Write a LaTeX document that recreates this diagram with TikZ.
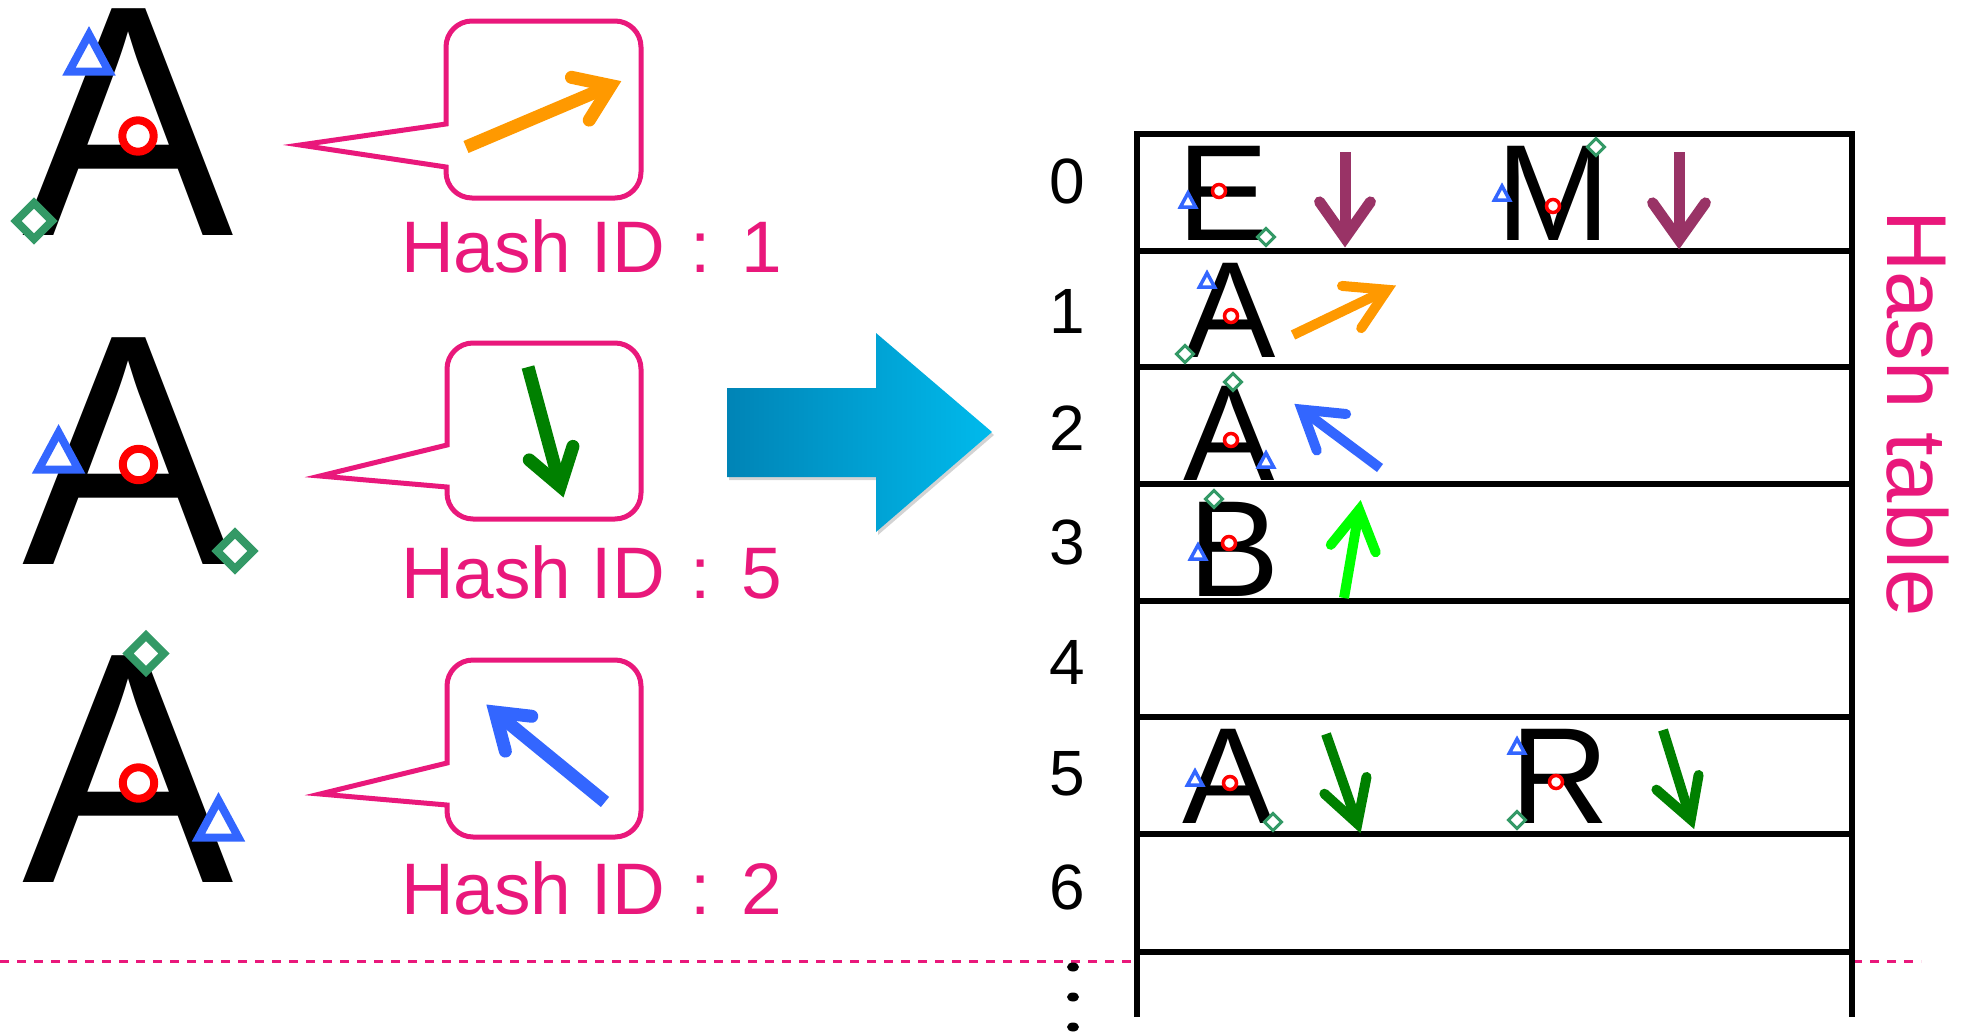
\documentclass[tikz,border=0pt]{standalone}
\usepackage{fontspec}
\setmainfont{Liberation Sans}
\usetikzlibrary{calc,shadows}

\definecolor{idpink}{RGB}{233,24,123}
\definecolor{vorange}{RGB}{255,153,0}
\definecolor{vgreen}{RGB}{0,128,0}
\definecolor{vblue}{RGB}{51,102,255}
\definecolor{vpurple}{RGB}{153,51,102}
\definecolor{vlime}{RGB}{0,255,0}
\definecolor{mkred}{RGB}{255,0,0}
\definecolor{mkblue}{RGB}{51,102,255}
\definecolor{mkgreen}{RGB}{51,153,102}
\definecolor{blockdark}{RGB}{0,132,182}
\definecolor{blockmid}{RGB}{0,172,222}
\definecolor{blocklight}{RGB}{0,186,236}

\newcommand\fsz[1]{\fontsize{#1}{#1}\selectfont}
\newcommand\tallglyph[1]{\scalebox{1}[1.04]{#1}}

% feature vector: straight shaft, V-shaped head with rounded barb ends
% #1 colour, #2 width, #3 tail, #4 tip, #5 and #6 barb ends
\newcommand\strokearrow[6]{%
  \draw[#1, line width=#2pt] #3 -- ($#4!1.1*#2pt!#3$);
  \draw[#1, line width=#2pt, line cap=round, line join=miter]
    ($#5!0.5*#2pt!#4$) -- ($#4!1.1*#2pt!#3$) -- ($#6!0.5*#2pt!#4$);
}

\tikzset{
  glyph/.style={inner sep=0pt, anchor=base, font=\fsz{317}},
  cellglyph/.style={inner sep=0pt, anchor=base, font=\fsz{137}},
  idlabel/.style={inner sep=0pt, anchor=base west, text=idpink, font=\fsz{73}},
  rownum/.style={inner sep=0pt, anchor=base, font=\fsz{64}},
  bubble/.style={draw=idpink, line width=5pt, fill=white},
  gridline/.style={line width=6.5pt, black},
  pics/mtri/.style args={#1/#2}{code={
    \draw[mkblue, fill=white, line width=#2pt] (0,-#1) -- ({1.08*#1},#1) -- ({-1.08*#1},#1) -- cycle;}},
  pics/mcirc/.style args={#1/#2}{code={
    \draw[mkred, fill=white, line width=#2pt] (0,0) circle[radius=#1pt];}},
  pics/mdiam/.style args={#1/#2}{code={
    \draw[mkgreen, fill=white, line width=#2pt] (0,-#1) -- (#1,0) -- (0,#1) -- (-#1,0) -- cycle;}},
}

\begin{document}
\begin{tikzpicture}[x=1pt, y=-1pt]
\useasboundingbox (0,0) rectangle (1965,1031);

% separator line, hidden behind the table
\draw[idpink, line width=3pt, dash pattern=on 9pt off 8pt] (0,961) -- (1921,961);

% ---------- left column: glyphs with keypoints ----------
\node[glyph] (gA1) at (128.5,235) {\tallglyph{A}};
\node[glyph] (gA2) at (128.5,564) {\tallglyph{A}};
\node[glyph] (gA3) at (128.5,882) {\tallglyph{A}};

\pic at (89,53) {mtri=18.5/8};
\pic at (138,136) {mcirc=15.7/8};
\pic at (34,221) {mdiam=18/8};

\pic at (58.6,451) {mtri=18.5/8};
\pic at (138.5,464.5) {mcirc=15.7/8};
\pic at (235,551) {mdiam=18/8};

\pic at (146,653.5) {mdiam=18/8};
\pic at (138.5,783) {mcirc=15.7/8};
\pic at (218.5,819) {mtri=18.5/8};

% ---------- callouts ----------
\draw[bubble] (446,124) [rounded corners=26pt] -- (446,21) -- (641,21) -- (641,198) -- (446,198)
  [sharp corners] -- (446,167) -- (300,145) -- cycle;
\draw[bubble] (447,445) [rounded corners=26pt] -- (447,343) -- (641,343) -- (641,519) -- (447,519)
  [sharp corners] -- (447,487) -- (320,476) -- cycle;
\draw[bubble] (447,763) [rounded corners=26pt] -- (447,660) -- (641,660) -- (641,837) -- (447,837)
  [sharp corners] -- (447,805) -- (320,794) -- cycle;

\strokearrow{vorange}{13}{(466,147)}{(624,80)}{(565,77)}{(585,125)}
\strokearrow{vgreen}{13}{(528,367)}{(564,500)}{(525,455)}{(574,440)}
\strokearrow{vblue}{13}{(605,802)}{(484,703)}{(538,718)}{(508,757)}

\node[idlabel] (id1) at (401,272) {Hash ID\hspace{26pt}:\hspace{30pt}1};
\node[idlabel] (id5) at (401,598) {Hash ID\hspace{26pt}:\hspace{30pt}5};
\node[idlabel] (id2) at (401,914) {Hash ID\hspace{26pt}:\hspace{30pt}2};

% ---------- block arrow ----------
\path[drop shadow={opacity=0.35, shadow xshift=2pt, shadow yshift=-3pt},
      left color=blockdark, middle color=blockmid, right color=blocklight]
  (727,388) -- (876,388) -- (876,333) -- (992,432) -- (876,532) -- (876,477) -- (727,477) -- cycle;

% ---------- hash table ----------
\fill[white] (1137,133) rectangle (1852,1017);
\foreach \yy in {134,251,367,484,601,717,834,952}
  \draw[gridline] (1134,\yy) -- (1855,\yy);
\draw[gridline] (1137,131) -- (1137,1017);
\draw[gridline] (1852,131) -- (1852,1017);

\node[rownum] (r0) at (1067,203) {0};
\node[rownum] (r1) at (1067,333) {1};
\node[rownum] (r2) at (1067,450) {2};
\node[rownum] (r3) at (1067,564) {3};
\node[rownum] (r4) at (1067,684) {4};
\node[rownum] (r5) at (1067,795) {5};
\node[rownum] (r6) at (1067,909) {6};
\fill (1073,967) ellipse[x radius=6pt, y radius=4.5pt];
\fill (1073,997) ellipse[x radius=6pt, y radius=4.5pt];
\fill (1073,1027) ellipse[x radius=6pt, y radius=4.5pt];

\node[rotate=-90, anchor=base west, inner sep=0pt, text=idpink, font=\fsz{85}] (htitle) at (1887,210) {Hash table};

% row 0
\node[cellglyph] (cE) at (1222.7,240) {E};
\pic at (1188,200) {mtri=7/3.5};
\pic at (1219,191) {mcirc=6.5/3.5};
\pic at (1266,237) {mdiam=8.5/3};
\strokearrow{vpurple}{11}{(1345,152)}{(1345,250)}{(1317,197)}{(1373,197)}
\node[cellglyph] (cM) at (1553.5,240) {M};
\pic at (1502,193) {mtri=7/3.5};
\pic at (1553,206) {mcirc=6.5/3.5};
\pic at (1596,147) {mdiam=8.5/3};
\strokearrow{vpurple}{11}{(1679,152)}{(1679,252)}{(1650,198)}{(1708,198)}

% row 1
\node[cellglyph] (cA1) at (1230.5,357) {A};
\pic at (1207,280) {mtri=7/3.5};
\pic at (1231,316) {mcirc=6.5/3.5};
\pic at (1185,354) {mdiam=8.5/3};
\strokearrow{vorange}{10}{(1293,335)}{(1397,285)}{(1337,286)}{(1358,332)}

% row 2
\node[cellglyph] (cA2) at (1229.5,480) {A};
\pic at (1233,382) {mdiam=8.5/3};
\pic at (1231,440) {mcirc=6.5/3.5};
\pic at (1266,460) {mtri=7/3.5};
\strokearrow{vblue}{10}{(1380,468)}{(1293,403)}{(1351,415)}{(1319,455)}

% row 3
\node[cellglyph] (cB) at (1234,596) {B};
\pic at (1214,499) {mdiam=8.5/3};
\pic at (1229,543) {mcirc=6.5/3.5};
\pic at (1198,552) {mtri=7/3.5};
\strokearrow{vlime}{10}{(1344,598)}{(1361,499)}{(1328,549)}{(1377,557)}

% row 5
\node[cellglyph] (cA5) at (1228,823) {A};
\pic at (1195,778) {mtri=7/3.5};
\pic at (1230,783) {mcirc=6.5/3.5};
\pic at (1273,822) {mdiam=8.5/3};
\strokearrow{vgreen}{10}{(1326,734)}{(1361,834)}{(1321,790)}{(1367,772)}
\node[cellglyph] (cR) at (1560,823) {R};
\pic at (1517,746) {mtri=7/3.5};
\pic at (1556,782) {mcirc=6.5/3.5};
\pic at (1517,820) {mdiam=8.5/3};
\strokearrow{vgreen}{10}{(1663,730)}{(1694,830)}{(1653,786)}{(1699,770)}

\end{tikzpicture}
\end{document}
